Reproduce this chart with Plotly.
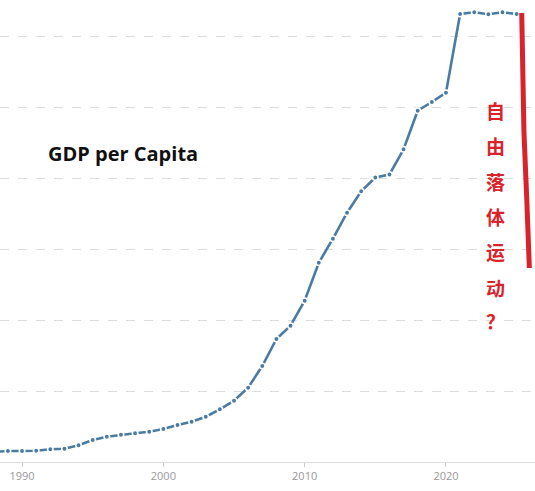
import plotly.graph_objects as go

years = list(range(1988, 2026))
gdp_per_capita = [
    283, 310, 310, 318, 358, 375, 470, 620, 713, 769, 808, 854,
    930, 1042, 1135, 1276, 1485, 1727, 2093, 2704, 3465, 3839,
    4544, 5614, 6290, 7023, 7625, 8014, 8099, 8808, 9896, 10141,
    10403, 12620, 12668, 12611, 12668, 12620,
]

# hand-drawn red "free fall" stroke
fall_x = [2025.36, 2025.43, 2025.52, 2025.72, 2025.90]
fall_y = [12648, 11127, 9268, 7380, 5465]

title_text = "GDP per Capita"
fall_chars = ["自", "由", "落", "体", "运", "动", "？"]
tick_years = [1990, 2000, 2010, 2020]
grid_vals = [2000, 4000, 6000, 8000, 10000, 12000]

fig = go.Figure()
fig.add_trace(go.Scatter(
    x=years, y=gdp_per_capita, mode="lines+markers",
    line=dict(color="#4a7ba3", width=2.6),
    marker=dict(size=5.5, color="#4a7ba3", line=dict(color="white", width=1.6)),
    hoverinfo="skip", showlegend=False,
))
fig.add_trace(go.Scatter(
    x=fall_x, y=fall_y, mode="lines",
    line=dict(color="#d9232b", width=5),
    hoverinfo="skip", showlegend=False,
))

fig.add_annotation(
    text="<b>" + title_text + "</b>", xref="paper", yref="paper",
    x=46 / 535, y=1 - 154 / 462, xanchor="left", yanchor="middle",
    showarrow=False, font=dict(family="Open Sans", size=20, color="#111111"),
)
char_y = [110.7, 145.5, 181, 216.5, 252, 287, 320]
for ch, py in zip(fall_chars, char_y):
    fig.add_annotation(
        text="<b>" + ch + "</b>", xref="paper", yref="paper",
        x=495 / 535, y=1 - py / 462, xanchor="center", yanchor="middle",
        showarrow=False,
        font=dict(family="Noto Sans CJK SC", size=19, color="#d9232b"),
    )

fig.update_layout(
    width=535, height=491,
    margin=dict(l=0, r=0, t=0, b=29),
    paper_bgcolor="white", plot_bgcolor="white",
    xaxis=dict(
        range=[1988.44, 2026.3], tickvals=tick_years,
        showgrid=False, zeroline=False,
        showline=True, linecolor="#dddddd", linewidth=1,
        ticks="outside", ticklen=4, tickcolor="#cccccc",
        tickfont=dict(family="Open Sans", size=11, color="#999999"),
    ),
    yaxis=dict(
        range=[0, 13014], tickvals=grid_vals, showticklabels=False,
        showgrid=True, gridcolor="#dcdcdc", griddash="dash", gridwidth=1,
        zeroline=False, showline=False,
    ),
)

fig.write_html(
    "out.html",
    config={"displayModeBar": False},
    post_script="document.body.style.margin='0px';document.body.style.overflow='hidden';",
)
